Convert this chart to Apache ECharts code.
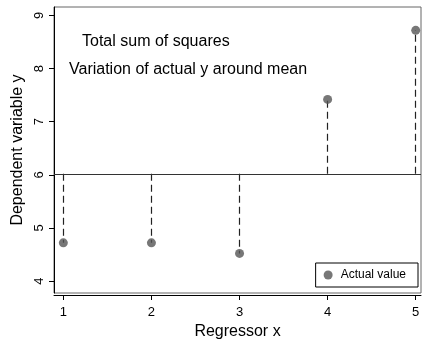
<!DOCTYPE html>
<html>
<head>
<meta charset="utf-8">
<script src="https://cdn.jsdelivr.net/npm/echarts@6/dist/echarts.min.js"></script>
<style>
  html, body { margin: 0; padding: 0; background: #fff; }
  #chart { width: 422px; height: 339px; }
</style>
</head>
<body>
<div id="chart"></div>
<script>
var xVals = [1, 2, 3, 4, 5];
var yVals = [4.72, 4.72, 4.52, 7.42, 8.72];
var xTicks = [1, 2, 3, 4, 5];
var yTicks = [4, 5, 6, 7, 8, 9];
var noteLines = ['Total sum of squares', 'Variation of actual y around mean'];

var FONT = 'Liberation Sans, Arial, sans-serif';

var mean = 0;
yVals.forEach(function (v) { mean += v; });
mean = mean / yVals.length;

var points = xVals.map(function (x, i) { return [x, yVals[i]]; });
var drops = xVals.map(function (x, i) {
    return { coords: [[x, mean], [x, yVals[i]]] };
});

var myChart = echarts.init(document.getElementById('chart'), null, { renderer: 'canvas' });

var option = {
    animation: false,
    textStyle: { fontFamily: FONT },
    grid: {
        left: 54, top: 7, right: 1, bottom: 46,
        outerBoundsMode: 'none',
        show: true, borderColor: '#666', borderWidth: 1
    },
    xAxis: {
        type: 'value',
        min: 0.894, max: 5.06,
        offset: 2,
        name: 'Regressor x',
        nameLocation: 'middle',
        nameGap: 28,
        nameTextStyle: { fontSize: 16, color: '#000', fontFamily: FONT },
        axisLine: { show: true, lineStyle: { color: '#000', width: 1 } },
        axisTick: { show: true, length: 5, lineStyle: { color: '#000' }, customValues: xTicks },
        axisLabel: { color: '#000', fontSize: 13, margin: 11, customValues: xTicks, fontFamily: FONT },
        splitLine: { show: false }
    },
    yAxis: {
        type: 'value',
        min: 3.775, max: 9.16,
        name: 'Dependent variable y',
        nameLocation: 'middle',
        nameGap: 28,
        nameTextStyle: { fontSize: 16, color: '#000', fontFamily: FONT },
        axisLine: { show: true, lineStyle: { color: '#000', width: 1 } },
        axisTick: { show: true, length: 5, lineStyle: { color: '#000' }, customValues: yTicks },
        axisLabel: { color: '#000', fontSize: 13, margin: 8, rotate: 90, customValues: yTicks, fontFamily: FONT },
        splitLine: { show: false }
    },
    legend: {
        right: 4, top: 263,
        orient: 'horizontal',
        data: ['Actual value'],
        borderColor: '#000', borderWidth: 1, borderRadius: 0,
        padding: [6, 12, 6, 8],
        itemWidth: 9, itemHeight: 9, itemGap: 4,
        textStyle: { fontSize: 12, color: '#000', fontFamily: FONT, padding: [0, 0, 0, 3] }
    },
    graphic: [
        { type: 'text', left: 82, top: 34, style: { text: noteLines[0], font: '16px ' + FONT, fill: '#000' } },
        { type: 'text', left: 69, top: 62, style: { text: noteLines[1], font: '16px ' + FONT, fill: '#000' } }
    ],
    series: [
        {
            name: 'mean',
            type: 'lines',
            coordinateSystem: 'cartesian2d',
            silent: true,
            lineStyle: { color: '#222', width: 1.2, type: [7, 4], opacity: 1 },
            data: drops,
            markLine: {
                silent: true,
                symbol: 'none',
                label: { show: false },
                lineStyle: { color: '#333', width: 1, type: 'solid' },
                data: [{ yAxis: mean }]
            }
        },
        {
            name: 'Actual value',
            type: 'scatter',
            symbol: 'circle',
            symbolSize: 9,
            itemStyle: { color: '#555' },
            data: points,
            z: 5
        }
    ]
};

myChart.setOption(option);
</script>
</body>
</html>
